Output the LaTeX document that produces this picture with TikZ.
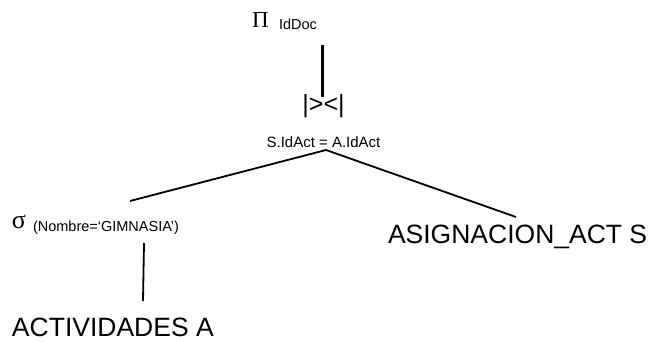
\documentclass[tikz,border=0pt]{standalone}
\usepackage{fontspec}
\setmainfont{Liberation Sans}
\newfontfamily\grkfont{Liberation Serif}
\begin{document}
\begin{tikzpicture}[x=1pt,y=-1pt,
  lbl/.style={inner sep=0pt,outer sep=0pt},
  edge/.style={line width=1.8pt},
  trunk/.style={line width=3pt}]
\useasboundingbox (0,0) rectangle (652,342);
% projection
\node[lbl,anchor=base west] (pi) at (252,28) {\grkfont\fontsize{23}{23}\selectfont Π};
\node[lbl,anchor=base west] (pattr) at (279,30) {\fontsize{14.5}{14.5}\selectfont IdDoc};
% join
\node[lbl,anchor=base] (join) at (323.5,112) {\fontsize{25}{25}\selectfont |><|};
\node[lbl,anchor=base] (cond) at (323.5,147) {\fontsize{15}{15}\selectfont S.IdAct = A.IdAct};
% selection
\node[lbl,anchor=base west] (sigma) at (12,228) {\grkfont\fontsize{26}{26}\selectfont σ};
\node[lbl,anchor=base west] (pred) at (33,231) {\fontsize{14.5}{14.5}\selectfont (Nombre=‘GIMNASIA’)};
% relations
\node[lbl,anchor=base west] (asig) at (388,243) {\fontsize{26.5}{26.5}\selectfont ASIGNACION\_ACT S};
\node[lbl,anchor=base west] (act) at (12,336) {\fontsize{26.5}{26.5}\selectfont ACTIVIDADES A};
% connector ends
\coordinate (pbot) at (322,45);
\coordinate (jtop) at (322,97);
\coordinate (apex) at (326,150);
\coordinate (sel) at (130,201);
\coordinate (rel) at (516,217);
\coordinate (stop) at (144,243);
\coordinate (abot) at (143,301);
\draw[trunk] (pbot) -- (jtop);
\draw[edge] (sel) -- (apex) -- (rel);
\draw[edge] (stop) -- (abot);
\end{tikzpicture}
\end{document}
